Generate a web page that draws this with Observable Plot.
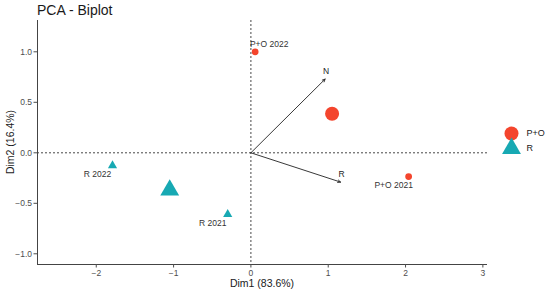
<!DOCTYPE html>
<html>
<head>
<meta charset="utf-8">
<script src="https://cdn.jsdelivr.net/npm/d3@7"></script>
<script src="https://cdn.jsdelivr.net/npm/@observablehq/plot@0.6"></script>
<style>
  html, body { margin: 0; padding: 0; background: #fff; }
  #wrap { position: relative; width: 550px; height: 291px; font-family: "Liberation Sans", Arial, sans-serif; }
  .ov { position: absolute; white-space: nowrap; color: #1a1a1a; line-height: 1; }
</style>
</head>
<body>
<div id="wrap">
  <div class="ov" id="title" style="left:37px; top:3px; font-size:14px;">PCA - Biplot</div>
  <div class="ov" id="xlab" style="left:262px; top:278px; font-size:10.5px; transform:translateX(-50%);">Dim1 (83.6%)</div>
  <div class="ov" id="ylab" style="left:10px; top:142px; font-size:10.5px; transform:translate(-50%,-50%) rotate(-90deg);">Dim2 (16.4%)</div>
</div>
<script>
// ---- data ----
const xDomain = [-2.76, 3.06];
const yDomain = [-1.106, 1.31];
const xTicks = [-2, -1, 0, 1, 2, 3];
const yTicks = [-1, -0.5, 0, 0.5, 1];
const groups = ["P+O", "R"];
const groupColors = ["#F4452D", "#17A9B3"];
const groupSymbols = ["circle", "triangle"];

const pointLabels = ["P+O 2022", "P+O 2021", "R 2022", "R 2021"];
const pointGroup = ["P+O", "P+O", "R", "R"];
const pointX = [0.055, 2.04, -1.79, -0.30];
const pointY = [1.0, -0.235, -0.126, -0.61];

const centroidGroup = ["P+O", "R"];
const centroidX = [1.05, -1.05];
const centroidY = [0.386, -0.37];

const varNames = ["N", "R"];
const varX = [0.96, 1.16];
const varY = [0.73, -0.29];

// ---- tables ----
const points = pointLabels.map((l, i) => ({label: l, group: pointGroup[i], x: pointX[i], y: pointY[i]}));
const centroids = centroidGroup.map((g, i) => ({group: g, x: centroidX[i], y: centroidY[i]}));
const vars = varNames.map((n, i) => ({name: n, x: varX[i], y: varY[i]}));

const colorScale = {domain: groups, range: groupColors};
const symbolScale = {domain: groups, range: groupSymbols};

const chart = Plot.plot({
  width: 550,
  height: 291,
  marginLeft: 37,
  marginRight: 63,
  marginTop: 20,
  marginBottom: 27,
  style: {fontFamily: "Liberation Sans, Arial, sans-serif", fontSize: "8.5px", background: "white", overflow: "visible"},
  x: {domain: xDomain, ticks: xTicks},
  y: {domain: yDomain, ticks: yTicks},
  color: colorScale,
  symbol: symbolScale,
  marks: [
    Plot.ruleX([0], {stroke: "#333", strokeDasharray: "2,2", strokeWidth: 0.9}),
    Plot.ruleY([0], {stroke: "#333", strokeDasharray: "2,2", strokeWidth: 0.9}),
    Plot.ruleY([yDomain[0]], {stroke: "#444", strokeWidth: 1}),
    Plot.ruleX([xDomain[0]], {stroke: "#444", strokeWidth: 1}),
    Plot.axisX({ticks: xTicks, tickFormat: d3.format("d"), tickSize: 3.5, tickPadding: 2, label: null, color: "#4d4d4d", fontSize: 8.5}),
    Plot.axisY({ticks: yTicks, tickFormat: d3.format(".1f"), tickSize: 3.5, tickPadding: 2, label: null, color: "#4d4d4d", fontSize: 8.5}),
    Plot.arrow(vars, {x1: () => 0, y1: () => 0, x2: "x", y2: "y", stroke: "#222", strokeWidth: 0.9, headLength: 5, headAngle: 50}),
    Plot.text(vars, {x: "x", y: "y", text: "name", dx: 1, dy: -8, fill: "#222", fontSize: 8.5}),
    Plot.dot(points, {x: "x", y: "y", fill: "group", symbol: "group", r: 3.4, stroke: null}),
    Plot.dot(centroids, {x: "x", y: "y", fill: "group", symbol: "group", r: 7, stroke: null}),
    Plot.text(points, {filter: d => d.y > 0.5, x: "x", y: "y", text: "label", dx: 14, dy: -8, fill: "#333", fontSize: 8.5}),
    Plot.text(points, {filter: d => d.y <= 0.5, x: "x", y: "y", text: "label", dx: -15, dy: 9, fill: "#333", fontSize: 8.5})
  ]
});
chart.style.position = "absolute";
chart.style.left = "0px";
chart.style.top = "0px";
const wrap = document.getElementById("wrap");
wrap.insertBefore(chart, wrap.firstChild);

// legend drawn with Plot
const legend = Plot.plot({
  width: 50,
  height: 40,
  marginLeft: 0, marginRight: 0, marginTop: 0, marginBottom: 0,
  style: {fontFamily: "Liberation Sans, Arial, sans-serif", fontSize: "9px", background: "transparent", overflow: "visible"},
  y: {type: "point", domain: groups, range: [13, 28], padding: 0, axis: null},
  color: colorScale,
  symbol: symbolScale,
  marks: [
    Plot.dot(groups, {frameAnchor: "left", y: d => d, dx: 11, fill: d => d, symbol: d => d, r: 7, stroke: null}),
    Plot.text(groups, {frameAnchor: "left", y: d => d, text: d => d, dx: 26, textAnchor: "start", fill: "#1a1a1a", fontSize: 9})
  ]
});
legend.style.position = "absolute";
legend.style.left = "500px";
legend.style.top = "120px";
wrap.appendChild(legend);
</script>
</body>
</html>
